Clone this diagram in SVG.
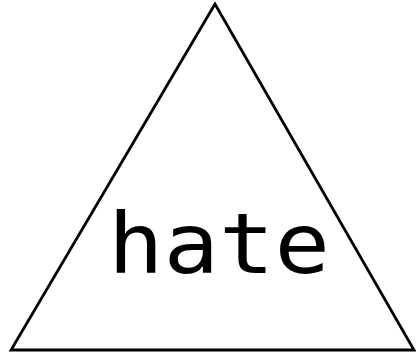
<svg xmlns="http://www.w3.org/2000/svg" width="416" height="353" viewBox="0 0 416 353">
<style>
.shape{fill:#fff;stroke:#000;stroke-width:2.8;stroke-linejoin:miter}
.lbl{font-family:"DejaVu Sans Mono","Liberation Mono",monospace;font-size:84px;fill:#000}
</style>
<rect width="416" height="353" fill="#fff"/>
<g id="triangle">
<polygon class="shape" points="215,4 11,350 414,350"/>
<text class="lbl" x="108" y="273" textLength="222" lengthAdjust="spacingAndGlyphs">hate</text>
</g>
</svg>
